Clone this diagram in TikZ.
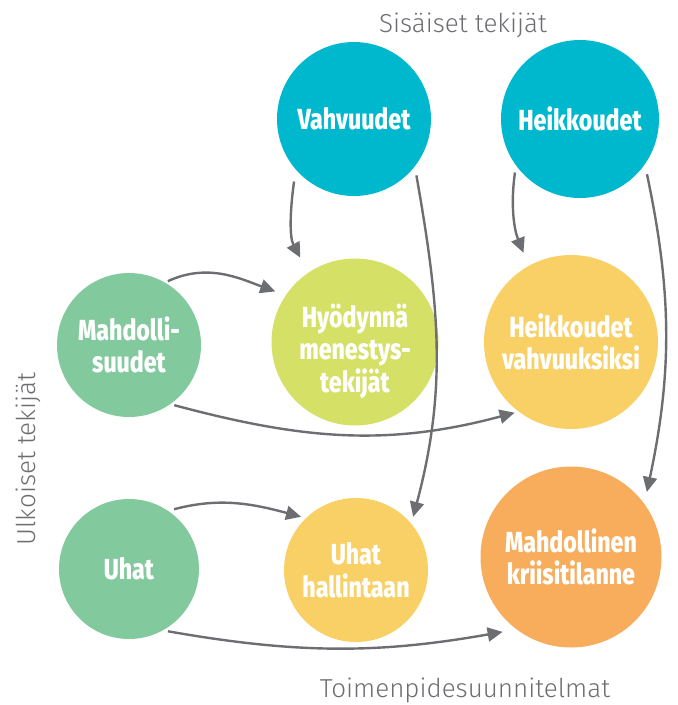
\documentclass[tikz,border=0pt]{standalone}
\usepackage{fontspec}
\setmainfont{Fira Sans}
\newfontfamily\labelfont[FakeStretch=0.8]{Fira Sans ExtraBold}
\newfontfamily\axisfont{Fira Sans Light}
\usetikzlibrary{arrows.meta}

\definecolor{cteal}{HTML}{00B8CE}
\definecolor{cgreen}{HTML}{82CA9D}
\definecolor{clime}{HTML}{D5E066}
\definecolor{cyellow}{HTML}{F9D065}
\definecolor{corange}{HTML}{F8AD5C}
\definecolor{cline}{HTML}{6D6E72}
\definecolor{ctext}{HTML}{6D6E71}

\tikzset{
  bubble/.style={circle, fill=#1, draw=none, inner sep=0pt, text=white,
    align=center, font=\labelfont\fontsize{29}{32.5}\selectfont},
  flow/.style={draw=cline, line width=2.4pt,
    -{Triangle[length=15pt,width=14pt]}},
  axislabel/.style={text=ctext, inner sep=0pt, font=\axisfont\fontsize{26}{30}\selectfont}
}

\begin{document}
\begin{tikzpicture}[x=1pt,y=1pt]
\useasboundingbox (0,0) rectangle (678,-705);

% internal factors
\node[bubble=cteal, minimum size=154pt] (v)  at (354,-119) {Vahvuudet};
\node[bubble=cteal, minimum size=158pt] (hk) at (580,-119) {Heikkoudet};

% external factors, first row: opportunities
\node[bubble=cgreen, minimum size=144pt] (m)  at (129,-345) {Mahdolli-\\suudet};
% the strut on the first line lowers this three-line text a little
\node[bubble=clime, minimum size=167pt] (h)  at (355,-342) {\rule{0pt}{42pt}Hyödynnä\\menestys-\\tekijät};
\node[bubble=cyellow, minimum size=174pt] (hv) at (571,-342) {Heikkoudet\\vahvuuksiksi};

% second row: threats
\node[bubble=cgreen, minimum size=140pt] (u)  at (129,-569) {Uhat};
\node[bubble=cyellow, minimum size=144pt] (uh) at (356,-570) {Uhat\\hallintaan};
\node[bubble=corange, minimum size=181pt] (mk) at (571,-557) {Mahdollinen\\kriisitilanne};

% axis captions
\node[axislabel, anchor=base] (top) at (463,-32) {Sisäiset tekijät};
\node[axislabel, anchor=base] (bottom) at (465,-697) {Toimenpidesuunnitelmat};
\node[axislabel, anchor=base, rotate=90] (left) at (35,-459) {Ulkoiset tekijät};

% connectors
\draw[flow, shorten <=12pt, shorten >=17pt] (v.221) to[out=262, in=118] (h.124);
\draw[flow, shorten <=9pt, shorten >=7pt] (v.322) to[out=280, in=75] (uh.40);
\draw[flow, shorten <=7pt, shorten >=14pt] (hk.216) to[out=262, in=112] (hv.119);
\draw[flow, shorten <=10pt, shorten >=12pt] (hk.325) to[out=282, in=78] (mk.36);
\draw[flow, shorten <=3pt, shorten >=11pt] (m.60) to[out=25, in=160] (h.146);
\draw[flow, shorten <=4pt, shorten >=4pt] (m.305) to[out=-15, in=195] (hv.233);
\draw[flow, shorten <=6pt, shorten >=5pt] (u.56) to[out=15, in=165] (uh.134);
\draw[flow, shorten <=5pt, shorten >=14pt] (u.299) to[out=-10, in=190] (mk.233);
\end{tikzpicture}
\end{document}
